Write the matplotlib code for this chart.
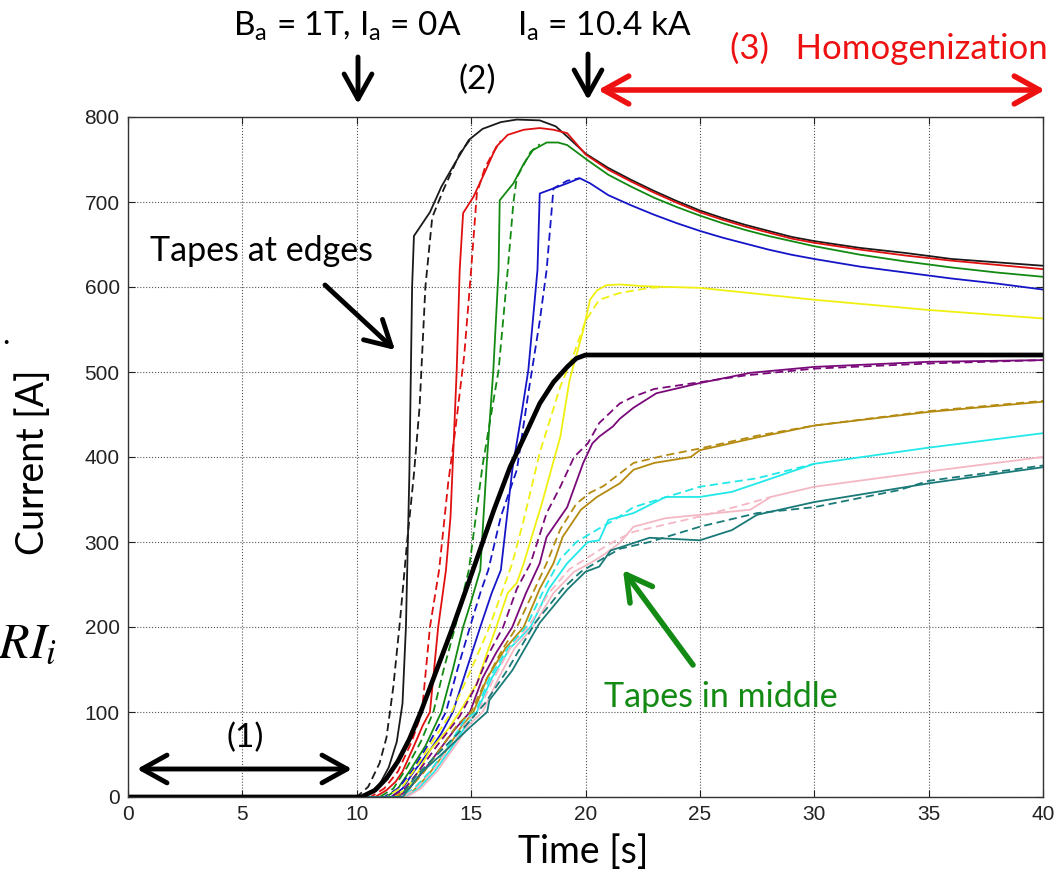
import matplotlib
matplotlib.use("Agg")
import matplotlib.pyplot as plt

# ---------------- data (time [s], current [A]) ----------------
t_applied = [0, 10.2, 10.8, 11.3, 11.8, 12.3, 12.8, 13.5, 14.2, 15.08, 16.0, 16.7, 17.4, 18.0, 18.6, 19.2, 19.6, 20.0, 40]
i_applied = [0, 0, 8, 22, 42, 68, 100, 150, 200, 267, 338, 388, 428, 463, 488, 506, 516, 520, 520]

t_black = [0, 10.2, 10.6, 11.0, 11.4, 11.75, 12.0, 12.15, 12.3, 12.42, 12.5, 12.8, 13.2, 13.7, 14.3, 14.9, 15.5, 16.3, 17.0, 18.0, 18.7, 19.2, 20.0,
           21, 22, 23, 24, 25, 26, 27, 28, 29, 30, 32, 34, 36, 38, 40]
i_black = [0, 0, 5, 15, 35, 65, 110, 200, 380, 600, 660, 672, 688, 718, 746, 773, 786, 794, 797, 796, 789, 777, 757,
           740, 726, 713, 701, 690, 681, 673, 666, 659, 654, 646, 640, 633, 629, 625]
t_black_d = [0, 10.0, 10.5, 11.0, 11.3, 11.6, 11.9, 12.2, 12.5, 12.75, 13.0, 13.3, 13.8, 14.5, 15.0]
i_black_d = [0, 0, 12, 40, 70, 130, 210, 300, 380, 460, 600, 682, 715, 757, 775]

t_red = [0, 10.8, 11.3, 11.7, 12.0, 12.5, 12.9, 13.2, 13.56, 13.9, 14.1, 14.37, 14.5, 14.65, 15.1, 15.6, 16.1, 16.6, 17.3, 18.0, 18.6, 19.2, 20.0,
         21, 22, 23, 24, 25, 26, 27, 28, 29, 30, 32, 34, 36, 38, 40]
i_red = [0, 0, 8, 18, 30, 60, 85, 100, 200, 267, 330, 502, 620, 687, 706, 735, 765, 779, 785, 787, 785, 781, 756,
         738, 724, 711, 699, 688, 679, 671, 664, 657, 652, 644, 637, 631, 626, 621]
t_red_d = [0, 10.6, 11.2, 11.8, 12.4, 12.85, 13.2, 13.6, 14.0, 14.3, 14.7, 15.0, 15.25, 15.6, 15.96, 16.3]
i_red_d = [0, 0, 10, 30, 65, 100, 200, 267, 370, 430, 520, 620, 710, 740, 758, 772]

t_green = [0, 11.3, 11.8, 12.3, 13.0, 13.7, 14.2, 14.65, 15.0, 15.4, 15.7, 15.97, 16.2, 16.25, 16.85, 17.3, 17.7, 18.3, 18.8, 19.2, 20.1,
           21, 22, 23, 24, 25, 26, 27, 28, 29, 30, 32, 34, 36, 38, 40]
i_green = [0, 0, 10, 30, 60, 100, 150, 200, 230, 267, 400, 502, 620, 702, 722, 745, 761, 770, 770, 767, 749,
           732, 718, 705, 694, 684, 675, 667, 660, 654, 648, 638, 630, 623, 617, 612]
t_green_d = [0, 11.0, 11.6, 12.2, 12.8, 13.35, 13.8, 14.3, 14.9, 15.5, 16.2, 16.6, 16.85, 17.0, 17.6, 18.0]
i_green_d = [0, 0, 10, 35, 65, 100, 150, 200, 267, 390, 502, 620, 700, 729, 759, 768]

t_blue = [0, 11.5, 12.0, 12.5, 13.2, 13.7, 14.2, 14.8, 15.4, 15.9, 16.3, 16.8, 17.2, 17.5, 17.9, 18.0, 18.6, 19.2, 19.75, 20.2,
          21, 22, 23, 24, 25, 26, 27, 28, 29, 30, 32, 34, 36, 38, 40]
i_blue = [0, 0, 10, 30, 55, 75, 100, 150, 200, 240, 267, 385, 450, 502, 620, 710, 716, 722, 728, 722,
          708, 696, 685, 675, 666, 658, 651, 644, 638, 633, 624, 617, 610, 604, 597]
t_blue_d = [0, 11.2, 11.8, 12.4, 13.2, 13.9, 14.4, 14.95, 15.4, 15.75, 16.3, 17.0, 17.5, 18.0, 18.3, 18.6, 19.2, 19.75]
i_blue_d = [0, 0, 10, 30, 65, 100, 150, 200, 240, 267, 330, 385, 475, 560, 620, 716, 725, 728]

t_yellow = [0, 11.6, 12.2, 12.7, 13.2, 14.0, 14.5, 15.26, 15.7, 16.1, 16.6, 17.0, 17.3, 18.1, 18.9, 19.3, 19.9, 20.2, 20.5, 20.9, 21.5, 22.5, 25.0, 30.0, 35.0, 40.0]
i_yellow = [0, 0, 10, 30, 55, 80, 100, 134, 170, 200, 240, 252, 275, 346, 424, 490, 549, 585, 596, 602, 603, 601, 599, 585, 573, 563]
t_yellow_d = [0, 11.3, 12.0, 12.6, 13.3, 14.15, 15.0, 15.8, 16.4, 16.8, 17.3, 18.0, 18.9, 19.5, 20.0, 20.6, 21.5, 22.8, 23.5]
i_yellow_d = [0, 0, 12, 35, 65, 100, 150, 200, 245, 275, 326, 405, 483, 522, 560, 585, 593, 599, 600]

t_purple = [0, 11.8, 12.3, 12.9, 13.6, 14.3, 14.95, 15.5, 16.1, 16.8, 17.4, 18.0, 18.3, 19.2, 19.9, 20.3, 20.6, 21.2, 21.5, 22.1, 23.1, 25.0, 27.2, 30.0, 35.0, 40.0]
i_purple = [0, 0, 10, 30, 55, 80, 100, 140, 170, 200, 240, 275, 306, 341, 393, 416, 424, 436, 445, 458, 475, 487, 499, 506, 512, 514]
t_purple_d = [0, 11.5, 12.1, 12.7, 13.5, 14.5, 15.2, 15.8, 16.4, 17.0, 17.6, 18.3, 18.9, 19.5, 20.1, 20.6, 21.5, 22.1, 23.0, 25.0, 27.0, 30.0, 35.0, 40.0]
i_purple_d = [0, 0, 10, 30, 60, 95, 130, 170, 200, 245, 275, 334, 365, 400, 416, 440, 463, 471, 480, 488, 496, 504, 510, 514]

t_gold = [0, 12.0, 12.5, 13.1, 13.8, 14.5, 15.1, 15.7, 16.5, 17.3, 18.0, 18.6, 19.0, 19.8, 20.5, 21.5, 22.1, 23.0, 24.6, 25.0, 27.5, 30.0, 35.0, 40.0]
i_gold = [0, 0, 8, 25, 50, 80, 100, 140, 175, 200, 245, 275, 306, 338, 353, 369, 385, 393, 400, 408, 423, 437, 453, 465]
t_gold_d = [0, 11.7, 12.3, 12.9, 13.6, 14.4, 15.0, 15.6, 16.4, 17.0, 17.7, 18.3, 18.9, 19.6, 20.2, 20.8, 22.1, 23.5, 25.0, 27.5, 30.0, 35.0, 40.0]
i_gold_d = [0, 0, 10, 28, 55, 85, 100, 135, 175, 200, 240, 275, 315, 345, 358, 366, 393, 402, 410, 425, 437, 454, 466]

t_cyan = [0, 12.1, 12.7, 13.4, 14.2, 14.8, 15.25, 15.9, 16.7, 17.6, 18.4, 19.2, 20.1, 20.6, 21.0, 22.1, 23.5, 25.0, 26.4, 27.5, 30.0, 35.0, 40.0]
i_cyan = [0, 0, 10, 30, 60, 85, 100, 140, 175, 200, 245, 275, 300, 302, 326, 334, 353, 353, 359, 369, 392, 411, 428]
t_cyan_d = [0, 11.9, 12.5, 13.2, 14.0, 14.7, 15.2, 15.8, 16.6, 17.4, 18.2, 18.9, 19.6, 20.6, 21.2, 22.1, 25.0, 27.5, 30.0]
i_cyan_d = [0, 0, 10, 30, 60, 90, 100, 140, 175, 200, 245, 280, 300, 316, 325, 341, 365, 375, 392]

t_pink = [0, 12.2, 12.8, 13.5, 14.3, 14.9, 15.5, 16.2, 16.9, 17.7, 18.6, 19.5, 20.2, 20.8, 21.5, 22.1, 23.5, 25.0, 27.2, 28.1, 30.0, 35.0, 40.0]
i_pink = [0, 0, 10, 30, 60, 85, 100, 140, 175, 200, 240, 265, 275, 285, 299, 318, 328, 332, 338, 353, 365, 383, 400]
t_pink_d = [0, 12.0, 12.6, 13.3, 14.1, 14.7, 15.3, 16.0, 16.7, 17.5, 18.4, 19.3, 20.0, 20.7, 21.4, 22.1, 25.0, 27.2, 28.1]
i_pink_d = [0, 0, 10, 30, 60, 85, 100, 140, 175, 200, 240, 268, 280, 292, 303, 312, 330, 346, 353]

t_teal = [0, 12.0, 12.8, 13.9, 14.95, 15.7, 15.8, 16.8, 18.0, 19.2, 20.0, 20.6, 21.1, 22.8, 25.0, 26.4, 27.5, 30.0, 35.0, 40.0]
i_teal = [0, 0, 28, 55, 82, 100, 114, 149, 205, 244, 265, 271, 290, 305, 302, 314, 332, 347, 369, 388]
t_teal_d = [0, 11.9, 12.6, 13.7, 14.8, 15.6, 16.6, 17.8, 19.0, 19.8, 20.6, 21.5, 22.8, 25.0, 27.5, 30.0, 33.7, 35.0, 40.0]
i_teal_d = [0, 0, 25, 55, 85, 110, 150, 205, 245, 265, 278, 292, 300, 318, 334, 341, 361, 372, 390]

x_ticks = [0, 5, 10, 15, 20, 25, 30, 35, 40]
y_ticks = [0, 100, 200, 300, 400, 500, 600, 700, 800]

# ---------------- figure ----------------
W, H = 1063, 873
fig = plt.figure(figsize=(W / 100, H / 100), dpi=100)
ax = fig.add_axes([128 / W, 1 - 797 / H, (1043 - 128) / W, (797 - 117) / H])

series = [
    ("#1a1a1a", t_black, i_black, t_black_d, i_black_d),
    ("#e01010", t_red, i_red, t_red_d, i_red_d),
    ("#128a12", t_green, i_green, t_green_d, i_green_d),
    ("#1515c8", t_blue, i_blue, t_blue_d, i_blue_d),
    ("#f0f010", t_yellow, i_yellow, t_yellow_d, i_yellow_d),
    ("#7a0a7a", t_purple, i_purple, t_purple_d, i_purple_d),
    ("#b48a10", t_gold, i_gold, t_gold_d, i_gold_d),
    ("#22e8e8", t_cyan, i_cyan, t_cyan_d, i_cyan_d),
    ("#f4b8c4", t_pink, i_pink, t_pink_d, i_pink_d),
    ("#1a7a78", t_teal, i_teal, t_teal_d, i_teal_d),
]
for col, ts, vs, td, vd in series:
    ax.plot(ts, vs, color=col, lw=1.3, solid_joinstyle="round")
    ax.plot(td, vd, color=col, lw=1.3, ls=(0, (4.5, 2.5)))

ax.plot(t_applied, i_applied, color="black", lw=3.4, solid_capstyle="butt")

ax.set_xlim(0, 40)
ax.set_ylim(0, 800)
ax.set_xticks(x_ticks)
ax.set_yticks(y_ticks)
ax.grid(True, ls=":", color="#555555", lw=0.8)
ax.tick_params(direction="in", top=True, right=True, length=5, width=0.8,
               labelsize=15, colors="#222222", pad=6)
for lab in ax.get_xticklabels() + ax.get_yticklabels():
    lab.set_fontfamily("Liberation Sans")
for s in ax.spines.values():
    s.set_color("#333333")
    s.set_linewidth(1.0)

FONT = "Lato"


def fx(x):
    return x / W


def fy(y):
    return 1 - y / H


def ftext(x, y, s, **kw):
    kw.setdefault("family", FONT)
    kw.setdefault("fontsize", 24)
    kw.setdefault("ha", "center")
    kw.setdefault("va", "center")
    fig.text(fx(x), fy(y), s, **kw)


def farrow(x1, y1, x2, y2, color="black", style="->", lw=3.5, hl=0.9, hw=0.5):
    fig.add_artist(matplotlib.patches.FancyArrowPatch(
        (fx(x1), fy(y1)), (fx(x2), fy(y2)), transform=fig.transFigure,
        arrowstyle=f"{style},head_length={hl},head_width={hw}",
        color=color, lw=lw, mutation_scale=20, shrinkA=0, shrinkB=0))


ftext(347, 26, r"B$_\mathregular{a}$ = 1T, I$_\mathregular{a}$ = 0A")
ftext(604, 26, r"I$_\mathregular{a}$ = 10.4 kA")
ftext(1048, 48, "(3)   Homogenization", color="#ee1111", fontsize=25, ha="right")
ftext(477, 80, "(2)")
ftext(262, 251, "Tapes at edges", fontsize=24.5)
ftext(721, 697, "Tapes in middle", color="#138a13", fontsize=24.5)
ftext(245, 738, "(1)")
ftext(583, 852, "Time [s]", fontsize=27)
ftext(33, 462, "Current [A]", fontsize=27, rotation=90)
ftext(-2, 643, r"$RI_i$", fontsize=36, ha="left", math_fontfamily="stix")
ftext(6, 335, ".", fontsize=22)

farrow(358, 57, 358, 104)
farrow(588, 54, 588, 100)
farrow(325, 285, 395, 350)
farrow(137, 769, 352, 769, style="<->")
farrow(598, 90, 1045, 90, color="#ee1111", style="<->", lw=4)
farrow(693, 665, 623, 570, color="#138a13", lw=4)

fig.savefig("out.png", dpi=100, facecolor="white")
